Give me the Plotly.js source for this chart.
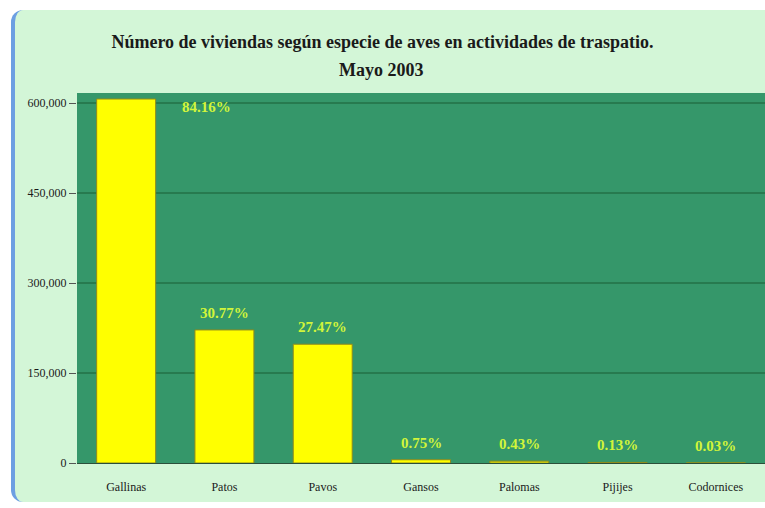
<!DOCTYPE html>
<html>
<head>
<meta charset="utf-8">
<script src="https://cdn.plot.ly/plotly-3.0.1.min.js"></script>
<style>
  html, body { margin:0; padding:0; background:#ffffff; }
  #bg { position:absolute; left:11px; top:10px; width:758px; height:492px;
        background:#d3f6d7; border-left:4px solid #6c9fe2; border-radius:12px 0 0 12px; }
  #chart { position:absolute; left:0; top:0; width:765px; height:508px; }
</style>
</head>
<body>
<div id="bg"></div>
<div id="chart"></div>
<script>
const categories = ["Gallinas", "Patos", "Pavos", "Gansos", "Palomas", "Pijijes", "Codornices"];
const households = [606700, 221800, 198000, 5400, 3100, 940, 220];
const percentLabels = ["84.16%", "30.77%", "27.47%", "0.75%", "0.43%", "0.13%", "0.03%"];
const yTickValues = [0, 150000, 300000, 450000, 600000];
const titleLine1 = "Número de viviendas según especie de aves en actividades de traspatio.";
const titleLine2 = "Mayo 2003";

const serif = "Liberation Serif, Times New Roman, serif";

const trace = {
  type: "bar",
  x: categories,
  y: households,
  marker: { color: "#ffff00", line: { color: "#8f8a1c", width: 1 } },
  hoverinfo: "skip"
};

const annotations = categories.map((c, i) => {
  const first = i === 0;
  return {
    x: c, y: households[i], xref: "x", yref: "y",
    text: "<b>" + percentLabels[i] + "</b>",
    showarrow: false,
    xshift: first ? 80 : 0,
    yshift: first ? 2 : 7,
    yanchor: first ? "top" : "bottom",
    font: { family: serif, size: 15, color: "#d2f53a" }
  };
});

annotations.push({
  text: "<b>" + titleLine2 + "</b>",
  xref: "paper", yref: "paper", x: 0.442, y: 1.062,
  xanchor: "center", yanchor: "middle", showarrow: false,
  font: { family: serif, size: 18, color: "#1a1a1a" }
});

const layout = {
  width: 765, height: 508,
  paper_bgcolor: "rgba(0,0,0,0)",
  plot_bgcolor: "#35976a",
  margin: { l: 77, r: 0, t: 93, b: 45 },
  showlegend: false,
  bargap: 0.4,
  title: {
    text: "<b>" + titleLine1 + "</b>",
    x: 0.5, xref: "container", xanchor: "center",
    y: 0.917, yref: "container", yanchor: "middle",
    font: { family: serif, size: 18, color: "#1a1a1a" }
  },
  xaxis: {
    type: "category",
    showgrid: false,
    showline: true, linecolor: "#2a4f3a", linewidth: 1,
    ticks: "",
    tickfont: { family: serif, size: 12, color: "#1a1a1a" },
    ticklabelstandoff: 13
  },
  yaxis: {
    range: [0, 616700],
    tickvals: yTickValues,
    tickformat: ",d",
    showgrid: true, gridcolor: "#277a4f", gridwidth: 2,
    zeroline: false,
    showline: false,
    ticks: "outside", ticklen: 7, tickcolor: "#555555",
    tickfont: { family: serif, size: 12, color: "#1a1a1a" }
  },
  annotations: annotations
};

Plotly.newPlot("chart", [trace], layout, { staticPlot: true, displayModeBar: false });
</script>
</body>
</html>
